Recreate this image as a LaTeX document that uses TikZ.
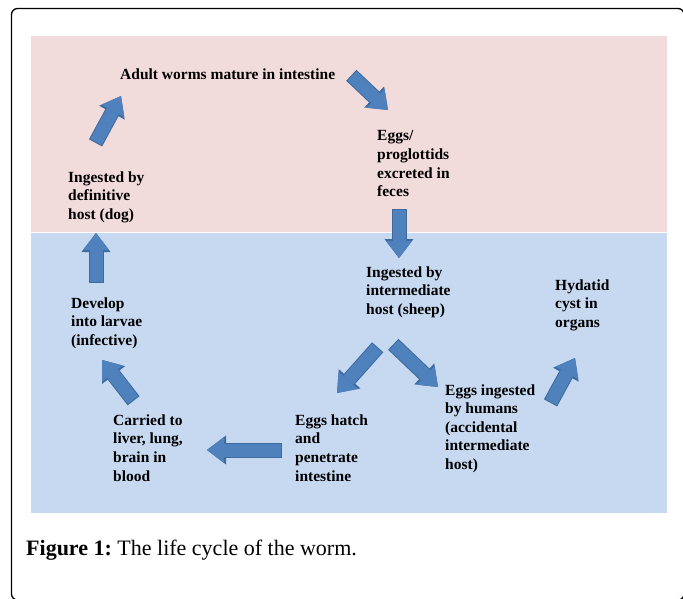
\documentclass[tikz,border=0pt]{standalone}
\usepackage{fontspec}
\setmainfont{Liberation Serif}
\usetikzlibrary{arrows.meta}
\definecolor{pinkbg}{HTML}{F2DCDB}
\definecolor{bluebg}{HTML}{C6D9F1}
\definecolor{arrfill}{HTML}{4F81BD}
\definecolor{arredge}{HTML}{3E6B9E}
\tikzset{
  lbl/.style={font=\bfseries\fontsize{15.5}{18.6}\selectfont, align=left, anchor=base west, inner sep=0pt, text=black},
  blockarrow/.style={
    preaction={draw=arredge, line width=15pt, shorten <=-1pt,
      -{Triangle[width=29pt,length=19pt,line width=0pt]}},
    draw=arrfill, line width=13pt,
    -{Triangle[width=26pt,length=17pt,line width=0pt]}},
  frame/.style={draw=black, line width=1.3pt, rounded corners=6pt}
}
\begin{document}
\frenchspacing
\begin{tikzpicture}[x=1pt, y=-1pt]
\useasboundingbox (0,0) rectangle (683,599);
\clip (0,0) rectangle (683,599);
\fill[white] (0,0) rectangle (683,599);
\draw[frame] (11.5,8.5) rectangle (684,600);
\fill[pinkbg] (31,36) rectangle (667,232);
\fill[bluebg] (31,233) rectangle (667,513);

% anchor base west = baseline of the last line
\node[lbl] (adult) at (120,80) {Adult worms mature in intestine};
\node[lbl] (eggs) at (377,196.8) {Eggs/\\proglottids\\excreted in\\feces};
\node[lbl] (dog) at (68,219.2) {Ingested by\\definitive\\host (dog)};
\node[lbl] (sheep) at (366,314.2) {Ingested by\\intermediate\\host (sheep)};
\node[lbl] (cyst) at (555,327.2) {Hydatid\\cyst in\\organs};
\node[lbl] (larvae) at (71,345.2) {Develop\\into larvae\\(infective)};
\node[lbl] (humans) at (445,469.4) {Eggs ingested\\by humans\\(accidental\\intermediate\\host)};
\node[lbl] (hatch) at (295,481) {Eggs hatch\\and\\penetrate\\intestine};
\node[lbl] (carried) at (113,481) {Carried to\\liver, lung,\\brain in\\blood};

\coordinate (a1s) at (96,142);  \coordinate (a1e) at (121,96);
\coordinate (a2s) at (352,76);  \coordinate (a2e) at (388,110);
\coordinate (a3s) at (399,210); \coordinate (a3e) at (399,258);
\coordinate (a4s) at (96,282);  \coordinate (a4e) at (96,233);
\coordinate (a5s) at (377,348); \coordinate (a5e) at (337,393);
\coordinate (a6s) at (394,345); \coordinate (a6e) at (438,387);
\coordinate (a7s) at (551,402); \coordinate (a7e) at (575,358);
\coordinate (a8s) at (281,450); \coordinate (a8e) at (207,450);
\coordinate (a9s) at (133,400); \coordinate (a9e) at (102,360);

\draw[blockarrow] (a1s) -- (a1e);
\draw[blockarrow] (a2s) -- (a2e);
\draw[blockarrow] (a3s) -- (a3e);
\draw[blockarrow] (a4s) -- (a4e);
\draw[blockarrow] (a5s) -- (a5e);
\draw[blockarrow] (a6s) -- (a6e);
\draw[blockarrow] (a7s) -- (a7e);
\draw[blockarrow] (a8s) -- (a8e);
\draw[blockarrow] (a9s) -- (a9e);

\node[anchor=base west, inner sep=0pt, font=\fontsize{22}{25}\selectfont] (cap) at (26,555) {\textbf{Figure 1:} The life cycle of the worm.};
\end{tikzpicture}
\end{document}
